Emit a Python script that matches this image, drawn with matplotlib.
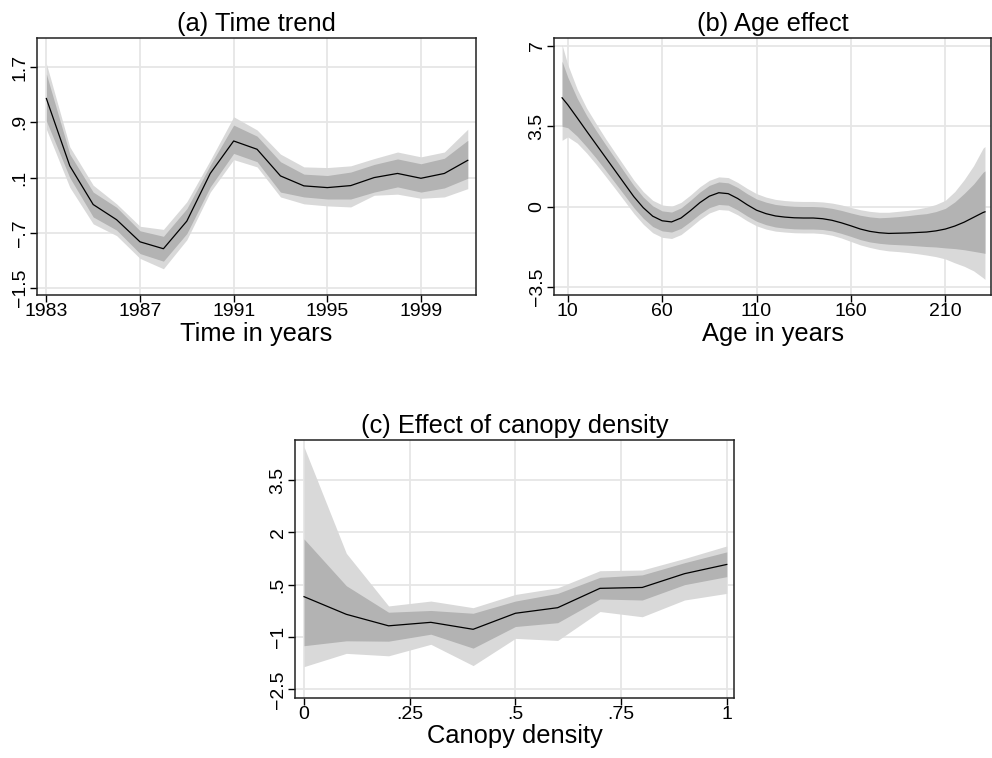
import matplotlib
matplotlib.use("Agg")
import matplotlib.pyplot as plt

plt.rcParams['font.family'] = ['Liberation Sans', 'DejaVu Sans']

# (a) time trend
years = [1983, 1984, 1985, 1986, 1987, 1988, 1989, 1990, 1991, 1992,
         1993, 1994, 1995, 1996, 1997, 1998, 1999, 2000, 2001]
time_fit = [1.245, 0.27, -0.29, -0.51, -0.83, -0.93, -0.53, 0.16, 0.63, 0.51,
            0.124, -0.02, -0.045, -0.016, 0.10, 0.16, 0.09, 0.16, 0.35]
time_in_hi = [1.60, 0.44, -0.11, -0.33, -0.67, -0.75, -0.35, 0.28, 0.86, 0.70,
              0.33, 0.15, 0.13, 0.18, 0.29, 0.37, 0.30, 0.38, 0.64]
time_in_lo = [0.92, 0.10, -0.47, -0.66, -1.00, -1.11, -0.71, -0.035, 0.45, 0.33,
              -0.11, -0.18, -0.21, -0.21, -0.11, -0.035, -0.11, -0.05, 0.09]
time_out_hi = [1.75, 0.545, -0.01, -0.28, -0.605, -0.65, -0.25, 0.35, 0.98, 0.79,
               0.44, 0.255, 0.245, 0.27, 0.375, 0.47, 0.40, 0.47, 0.80]
time_out_lo = [0.80, -0.04, -0.57, -0.74, -1.07, -1.22, -0.80, -0.11, 0.36, 0.255,
               -0.18, -0.28, -0.31, -0.325, -0.156, -0.14, -0.20, -0.18, -0.06]

# (b) age effect
ages = [7, 10, 15, 20, 25, 30, 35, 40, 45, 50, 55, 60, 65, 70, 75, 80, 85, 90, 95,
        100, 105, 110, 115, 120, 125, 130, 135, 140, 145, 150, 155, 160, 165, 170,
        175, 180, 185, 190, 195, 200, 205, 210, 215, 220, 225, 230, 231]
age_fit = [4.73, 4.43, 3.86, 3.28, 2.71, 2.14, 1.57, 1.00, 0.43, -0.05, -0.42, -0.62,
           -0.67, -0.50, -0.18, 0.17, 0.45, 0.60, 0.56, 0.35, 0.08, -0.16, -0.31,
           -0.41, -0.46, -0.49, -0.50, -0.50, -0.53, -0.60, -0.71, -0.84, -0.98,
           -1.08, -1.14, -1.17, -1.16, -1.15, -1.13, -1.11, -1.06, -0.98, -0.85,
           -0.68, -0.47, -0.26, -0.23]
age_in_hi = [6.32, 5.63, 4.71, 3.96, 3.31, 2.70, 2.10, 1.50, 0.91, 0.41, 0.03, -0.19,
             -0.24, -0.06, 0.27, 0.63, 0.92, 1.07, 1.03, 0.83, 0.56, 0.33, 0.19,
             0.09, 0.04, 0.01, 0.00, 0.00, -0.02, -0.08, -0.17, -0.28, -0.38,
             -0.45, -0.49, -0.47, -0.44, -0.40, -0.35, -0.31, -0.22, -0.08, 0.20,
             0.57, 0.98, 1.49, 1.55]
age_in_lo = [3.49, 3.43, 3.06, 2.60, 2.11, 1.58, 1.04, 0.50, -0.05, -0.51, -0.87,
             -1.06, -1.11, -0.95, -0.65, -0.32, -0.05, 0.09, 0.06, -0.15, -0.41,
             -0.64, -0.79, -0.89, -0.94, -0.97, -0.98, -0.98, -1.00, -1.06, -1.17,
             -1.30, -1.44, -1.54, -1.60, -1.64, -1.66, -1.68, -1.71, -1.74, -1.76,
             -1.80, -1.83, -1.88, -1.95, -2.02, -2.04]
age_out_hi = [7.04, 6.18, 5.11, 4.28, 3.61, 2.96, 2.35, 1.75, 1.15, 0.65, 0.27, 0.07,
              0.01, 0.18, 0.50, 0.86, 1.14, 1.29, 1.26, 1.05, 0.79, 0.56, 0.41,
              0.31, 0.26, 0.23, 0.22, 0.22, 0.20, 0.15, 0.07, -0.04, -0.14, -0.21,
              -0.25, -0.25, -0.21, -0.17, -0.11, -0.03, 0.09, 0.27, 0.65, 1.17,
              1.78, 2.54, 2.61]
age_out_lo = [2.88, 3.03, 2.76, 2.33, 1.84, 1.32, 0.79, 0.25, -0.30, -0.77, -1.14,
              -1.34, -1.39, -1.22, -0.90, -0.56, -0.28, -0.13, -0.16, -0.36, -0.62,
              -0.84, -0.98, -1.07, -1.11, -1.14, -1.15, -1.15, -1.18, -1.25, -1.37,
              -1.52, -1.67, -1.78, -1.87, -1.93, -1.96, -2.00, -2.05, -2.11, -2.18,
              -2.28, -2.45, -2.60, -2.80, -3.10, -3.17]

# (c) canopy density
canopy = [0.0, 0.1, 0.2, 0.3, 0.4, 0.5, 0.6, 0.7, 0.8, 0.9, 1.0]
can_fit = [0.156, -0.35, -0.68, -0.58, -0.78, -0.32, -0.16, 0.395, 0.42, 0.815, 1.08]
can_in_hi = [1.81, 0.47, -0.29, -0.24, -0.32, 0.03, 0.25, 0.71, 0.78, 1.13, 1.44]
can_in_lo = [-1.25, -1.11, -1.12, -0.92, -1.32, -0.70, -0.59, 0.09, 0.06, 0.50, 0.73]
can_out_hi = [4.45, 1.40, -0.11, 0.03, -0.16, 0.22, 0.41, 0.90, 0.92, 1.25, 1.61]
can_out_lo = [-1.85, -1.47, -1.54, -1.21, -1.82, -1.04, -1.10, -0.27, -0.42, 0.06, 0.25]

LIGHT = '#d9d9d9'
DARK = '#b3b3b3'
GRID = '#e6e6e6'


def draw_panel(ax, x, fit, in_lo, in_hi, out_lo, out_hi, title, xlabel,
               xticks, xlabels, yticks, ylabels, xlim, ylim):
    ax.set_axisbelow(True)
    ax.grid(True, color=GRID, linewidth=1.3)
    ax.fill_between(x, out_lo, out_hi, color=LIGHT, linewidth=0, zorder=2)
    ax.fill_between(x, in_lo, in_hi, color=DARK, linewidth=0, zorder=3)
    ax.plot(x, fit, color='black', linewidth=0.9, zorder=4)
    ax.set_xlim(*xlim)
    ax.set_ylim(*ylim)
    ax.set_xticks(xticks)
    ax.set_xticklabels(xlabels, fontsize=14)
    ax.set_yticks(yticks)
    ax.set_yticklabels(ylabels, fontsize=14, rotation=90, va='center')
    ax.tick_params(direction='out', length=5, width=1, pad=1)
    for s in ax.spines.values():
        s.set_linewidth(1.1)
        s.set_color('#222222')
    ax.set_title(title, fontsize=18.4, pad=5)
    ax.set_xlabel(xlabel, fontsize=18.4, labelpad=1)


fig = plt.figure(figsize=(9.92, 7.58), dpi=100)

ax1 = fig.add_axes([0.0373, 0.6108, 0.4425, 0.339])
draw_panel(ax1, years, time_fit, time_in_lo, time_in_hi, time_out_lo, time_out_hi,
           '(a) Time trend', 'Time in years',
           [1983, 1987, 1991, 1995, 1999], ['1983', '1987', '1991', '1995', '1999'],
           [1.7, 0.9, 0.1, -0.7, -1.5], ['1.7', '.9', '.1', '\u2212.7', '\u22121.5'],
           (1982.6, 2001.35), (-1.60, 2.12))

ax2 = fig.add_axes([0.5585, 0.6108, 0.4405, 0.339])
draw_panel(ax2, ages, age_fit, age_in_lo, age_in_hi, age_out_lo, age_out_hi,
           '(b) Age effect', 'Age in years',
           [10, 60, 110, 160, 210], ['10', '60', '110', '160', '210'],
           [7, 3.5, 0, -3.5], ['7', '3.5', '0', '\u22123.5'],
           (2.74, 234.2), (-3.85, 7.33))

ax3 = fig.add_axes([0.2974, 0.0796, 0.4429, 0.34])
draw_panel(ax3, canopy, can_fit, can_in_lo, can_in_hi, can_out_lo, can_out_hi,
           '(c) Effect of canopy density', 'Canopy density',
           [0, 0.25, 0.5, 0.75, 1], ['0', '.25', '.5', '.75', '1'],
           [3.5, 2, 0.5, -1, -2.5], ['3.5', '2', '.5', '\u22121', '\u22122.5'],
           (-0.0213, 1.018), (-2.74, 4.65))

fig.savefig('out.png', dpi=100, facecolor='white')
